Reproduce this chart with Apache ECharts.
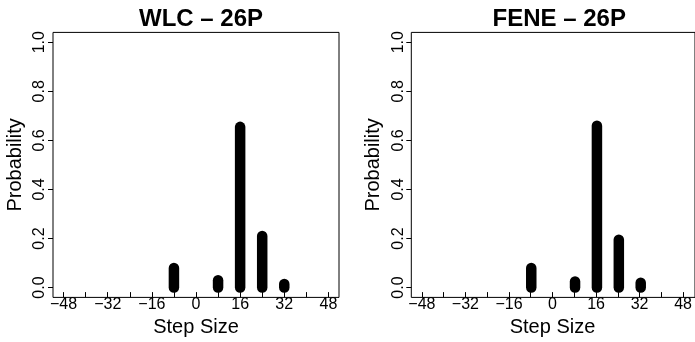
<!DOCTYPE html>
<html>
<head>
<meta charset="utf-8">
<script src="https://cdn.jsdelivr.net/npm/echarts@6/dist/echarts.min.js"></script>
<style>
html,body{margin:0;padding:0;background:#fff;}
#c{width:695px;height:342px;}
</style>
</head>
<body>
<div id="c"></div>
<script>
// ---- data ----
const panelTitles = ['WLC \u2013 26P', 'FENE \u2013 26P'];
const stepSizes = [-8, 8, 16, 24, 32];
const wlcProb = [0.08, 0.03, 0.655, 0.21, 0.015];
const feneProb = [0.08, 0.025, 0.66, 0.195, 0.02];
const xTickMin = -48, xTickMax = 48, xTickStep = 8, xLabelStep = 16;
const yTickMin = 0, yTickMax = 1, yTickStep = 0.2;
const xAxisTitle = 'Step Size';
const yAxisTitle = 'Probability';

const probs = [wlcProb, feneProb];
const FONT = '"Liberation Sans", Arial, Helvetica, sans-serif';

// layout (pixel) of each panel's box
const panels = [
  {left: 53, width: 286},
  {left: 411.3, width: 285.8}
];
const boxTop = 32.4, boxHeight = 265;
// R-style 4% extension
const xPad = (xTickMax - xTickMin) * 0.04;
const yPad = (yTickMax - yTickMin) * 0.04;

const grid = [], xAxis = [], yAxis = [], series = [], title = [];

panels.forEach((p, i) => {
  const g0 = i * 3;
  const pxPerX = p.width / (xTickMax - xTickMin + 2 * xPad);
  const pxPerY = boxHeight / (yTickMax - yTickMin + 2 * yPad);
  grid.push({left: p.left, top: boxTop, width: p.width, height: boxHeight,
    show: true, borderColor: '#000', borderWidth: 1, backgroundColor: 'transparent', containLabel: false});
  grid.push({left: p.left + xPad * pxPerX, top: boxTop, width: p.width - 2 * xPad * pxPerX, height: boxHeight, containLabel: false});
  grid.push({left: p.left, top: boxTop + yPad * pxPerY, width: p.width, height: boxHeight - 2 * yPad * pxPerY, containLabel: false});

  xAxis.push({type: 'value', gridIndex: g0, min: xTickMin - xPad, max: xTickMax + xPad, show: false});
  yAxis.push({type: 'value', gridIndex: g0, min: yTickMin - yPad, max: yTickMax + yPad, show: false});

  xAxis.push({type: 'value', gridIndex: g0 + 1, min: xTickMin, max: xTickMax, interval: xTickStep,
    axisLine: {show: false}, splitLine: {show: false},
    axisTick: {show: true, length: 5, lineStyle: {color: '#000', width: 1}},
    axisLabel: {color: '#000', fontFamily: FONT, fontSize: 16, margin: 4, showMinLabel: true, showMaxLabel: true,
      formatter: v => (Math.round(v) % xLabelStep === 0 ? String(Math.round(v)).replace('-', '\u2212') : '')},
    name: xAxisTitle, nameLocation: 'middle', nameGap: 22,
    nameTextStyle: {color: '#000', fontFamily: FONT, fontSize: 20}});
  yAxis.push({type: 'value', gridIndex: g0 + 1, min: 0, max: 1, show: false});

  xAxis.push({type: 'value', gridIndex: g0 + 2, min: 0, max: 1, show: false});
  yAxis.push({type: 'value', gridIndex: g0 + 2, min: yTickMin, max: yTickMax, interval: yTickStep,
    axisLine: {show: false}, splitLine: {show: false},
    axisTick: {show: true, length: 5, lineStyle: {color: '#000', width: 1}},
    axisLabel: {color: '#000', fontFamily: FONT, fontSize: 16, margin: 5, rotate: 90,
      formatter: v => v.toFixed(1)},
    name: yAxisTitle, nameLocation: 'middle', nameGap: 28, nameRotate: 90,
    nameTextStyle: {color: '#000', fontFamily: FONT, fontSize: 20}});

  title.push({text: panelTitles[i], left: p.left + p.width / 2, top: 2, textAlign: 'center',
    textStyle: {color: '#000', fontFamily: FONT, fontSize: 24, fontWeight: 'bold'}});

  series.push({
    type: 'custom', xAxisIndex: g0, yAxisIndex: g0,
    data: stepSizes.map((s, k) => [s, probs[i][k]]),
    renderItem: (params, api) => {
      const a = api.coord([api.value(0), 0]);
      const b = api.coord([api.value(0), api.value(1)]);
      return {type: 'line', shape: {x1: a[0], y1: a[1], x2: b[0], y2: b[1]},
        style: {stroke: '#000', lineWidth: 10.5, lineCap: 'round'}};
    },
    silent: true, animation: false
  });
});

const chart = echarts.init(document.getElementById('c'), null, {renderer: 'canvas'});
chart.setOption({animation: false, backgroundColor: '#fff', title, grid, xAxis, yAxis, series});
</script>
</body>
</html>
